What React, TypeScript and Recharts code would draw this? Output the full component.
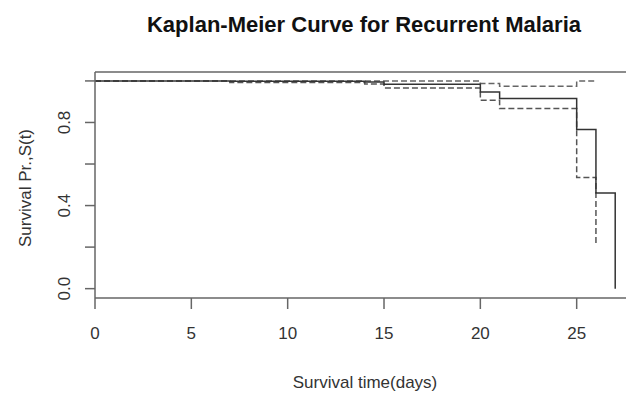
import React from 'react';
import { ComposedChart, Line, XAxis, YAxis, ReferenceLine } from 'recharts';

// Kaplan-Meier estimate with confidence band
const times = [0, 7, 14, 15, 20, 21, 25, 26, 27];
const survival = [1.0, 0.998, 0.995, 0.984, 0.947, 0.915, 0.766, 0.46, 0.0];
const lowerCI = [1.0, 0.992, 0.985, 0.966, 0.907, 0.867, 0.535, 0.209, null];
const upperCI = [1.0, 1.0, 1.0, 1.0, 0.988, 0.974, 1.0, 1.0, null];

const xTicks = [0, 5, 10, 15, 20, 25];
const yTicks = [0, 0.2, 0.4, 0.6, 0.8, 1.0];
const yLabelled = [0, 0.4, 0.8];

const X_MAX = 27.56;
const Y_MIN = -0.045;
const Y_MAX = 1.043;

const data = times.map((t, i) => ({
  time: t,
  surv: survival[i],
  lower: lowerCI[i],
  upper: upperCI[i],
}));

const font = '"Liberation Sans", Arial, Helvetica, sans-serif';
const axisColor = '#666';

function XTick({ x, payload }: any) {
  return (
    <text x={x} y={339} textAnchor="middle" fontFamily={font} fontSize={17} fill="#333">
      {payload.value}
    </text>
  );
}

function YTick({ y, payload }: any) {
  const v = payload.value;
  if (!yLabelled.some((l) => Math.abs(l - v) < 1e-6)) return null;
  return (
    <text
      x={65}
      y={y}
      transform={`rotate(-90, 65, ${y})`}
      textAnchor="middle"
      dominantBaseline="central"
      fontFamily={font}
      fontSize={17}
      fill="#333"
    >
      {v.toFixed(1)}
    </text>
  );
}

export default function App() {
  return (
    <div
      style={{
        position: 'absolute',
        left: 0,
        top: 0,
        width: 626,
        height: 393,
        background: '#fff',
        overflow: 'hidden',
        fontFamily: font,
      }}
    >
      <div
        style={{
          position: 'absolute',
          left: 364,
          top: 25,
          transform: 'translate(-50%, -50%)',
          whiteSpace: 'nowrap',
          fontSize: 22,
          fontWeight: 'bold',
          lineHeight: 1,
          color: '#111',
        }}
      >
        Kaplan-Meier Curve for Recurrent Malaria
      </div>
      <ComposedChart
        width={626}
        height={393}
        data={data}
        margin={{ top: 72, right: 0, bottom: 0, left: 0 }}
      >
        <XAxis
          dataKey="time"
          type="number"
          domain={[0, X_MAX]}
          ticks={xTicks}
          allowDataOverflow
          height={95}
          tickSize={11}
          tickLine={{ stroke: axisColor, strokeWidth: 1.5 }}
          axisLine={{ stroke: axisColor, strokeWidth: 1.5 }}
          tick={<XTick />}
        />
        <YAxis
          type="number"
          domain={[Y_MIN, Y_MAX]}
          ticks={yTicks}
          allowDataOverflow
          width={95}
          tickSize={10}
          tickLine={{ stroke: axisColor, strokeWidth: 1.5 }}
          axisLine={{ stroke: axisColor, strokeWidth: 1.5 }}
          tick={<YTick />}
        />
        <ReferenceLine y={Y_MAX} stroke={axisColor} strokeWidth={1.5} />
        <Line
          type="stepAfter"
          dataKey="upper"
          stroke="#666"
          strokeWidth={1.5}
          strokeDasharray="6 3"
          dot={false}
          isAnimationActive={false}
        />
        <Line
          type="stepAfter"
          dataKey="lower"
          stroke="#555"
          strokeWidth={1.5}
          strokeDasharray="6 3"
          dot={false}
          isAnimationActive={false}
        />
        <Line
          type="stepAfter"
          dataKey="surv"
          stroke="#333"
          strokeWidth={1.5}
          dot={false}
          isAnimationActive={false}
        />
      </ComposedChart>
      <div
        style={{
          position: 'absolute',
          left: 365,
          top: 382,
          transform: 'translate(-50%, -50%)',
          whiteSpace: 'nowrap',
          fontSize: 17,
          lineHeight: 1,
          color: '#333',
        }}
      >
        Survival time(days)
      </div>
      <div
        style={{
          position: 'absolute',
          left: 25,
          top: 188,
          transform: 'translate(-50%, -50%) rotate(-90deg)',
          whiteSpace: 'nowrap',
          fontSize: 17,
          lineHeight: 1,
          color: '#333',
        }}
      >
        Survival Pr.,S(t)
      </div>
    </div>
  );
}
